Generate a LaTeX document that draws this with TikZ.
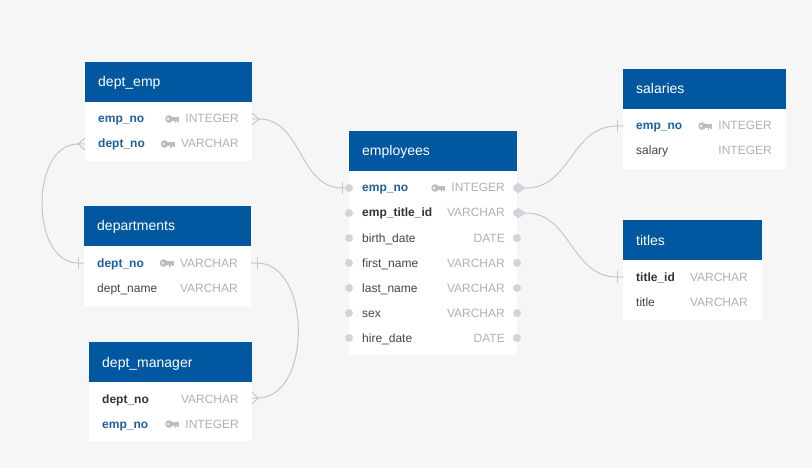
\documentclass[tikz,border=0pt]{standalone}
\usepackage{fontspec}
\setmainfont{Liberation Sans}
\usetikzlibrary{calc}
\definecolor{bgc}{HTML}{F5F6F5}
\definecolor{hdrc}{HTML}{0158A0}
\definecolor{keyblue}{HTML}{1D5F9F}
\definecolor{fkdark}{HTML}{333333}
\definecolor{plainc}{HTML}{444444}
\definecolor{typec}{HTML}{B0B0B8}
\definecolor{keyc}{HTML}{BDBDC5}
\definecolor{dotc}{HTML}{D3D3DD}
\definecolor{linec}{HTML}{C6C6C6}
\tikzset{
  hdrbox/.style={fill=hdrc, draw=none, anchor=north west, minimum height=40pt, inner sep=0pt},
  hdrtxt/.style={text=white, anchor=base west, inner sep=0pt, font=\fontsize{14}{16}\selectfont},
  bodybox/.style={fill=white, draw=none, anchor=north west, inner sep=0pt},
  pkname/.style={text=keyblue, anchor=base west, inner sep=0pt, font=\fontsize{12}{14}\selectfont\bfseries},
  fkname/.style={text=fkdark, anchor=base west, inner sep=0pt, font=\fontsize{12}{14}\selectfont\bfseries},
  plname/.style={text=plainc, anchor=base west, inner sep=0pt, font=\fontsize{12}{14}\selectfont},
  typ/.style={text=typec, anchor=base east, inner sep=0pt, font=\fontsize{12}{14}\selectfont},
  dotnode/.style={circle, fill=dotc, draw=none, minimum size=8pt, inner sep=0pt},
  conn/.style={draw=linec, line width=1pt},
  keyicon/.pic={
    \fill[keyc] (3.8,0) circle [radius=3.8pt];
    \fill[white] (2.9,0) circle [radius=1.2pt];
    \fill[keyc] (6,-1.6) rectangle (14,1.6);
    \fill[keyc] (9.3,1.6) rectangle (11,3.6);
    \fill[keyc] (12.2,1.6) rectangle (14,3.2);
  }
}
\begin{document}
\begin{tikzpicture}[x=1pt,y=-1pt]
\fill[bgc] (0,0) rectangle (812,468);
\useasboundingbox (0,0) rectangle (812,468);

% ---------------- dept_emp ----------------
\node[hdrbox, minimum width=167pt] (deH) at (85,62) {};
\node[hdrtxt] (deTt) at (98,87) {dept\_emp};
\node[bodybox, minimum width=167pt, minimum height=59pt] (deB) at (85,102) {};
\node[pkname] (deN1) at (98,123) {emp\_no};
\node[typ] (deT1) at (239,123) {INTEGER};
\path ($(deT1.base west)+(-20,-4)$) pic {keyicon};
\node[pkname] (deN2) at (98,148) {dept\_no};
\node[typ] (deT2) at (239,148) {VARCHAR};
\path ($(deT2.base west)+(-20,-4)$) pic {keyicon};

% ---------------- departments ----------------
\node[hdrbox, minimum width=167pt] (dpH) at (84,206) {};
\node[hdrtxt] (dpTt) at (97,231) {departments};
\node[bodybox, minimum width=167pt, minimum height=60pt] (dpB) at (84,246) {};
\node[pkname] (dpN1) at (97,267) {dept\_no};
\node[typ] (dpT1) at (238,267) {VARCHAR};
\path ($(dpT1.base west)+(-20,-4)$) pic {keyicon};
\node[plname] (dpN2) at (97,292) {dept\_name};
\node[typ] (dpT2) at (238,292) {VARCHAR};

% ---------------- dept_manager ----------------
\node[hdrbox, minimum width=163pt] (dmH) at (89,342) {};
\node[hdrtxt] (dmTt) at (102,367) {dept\_manager};
\node[bodybox, minimum width=163pt, minimum height=59pt] (dmB) at (89,382) {};
\node[fkname] (dmN1) at (102,403) {dept\_no};
\node[typ] (dmT1) at (239,403) {VARCHAR};
\node[pkname] (dmN2) at (102,428) {emp\_no};
\node[typ] (dmT2) at (239,428) {INTEGER};
\path ($(dmT2.base west)+(-20,-4)$) pic {keyicon};

% ---------------- employees ----------------
\node[hdrbox, minimum width=168pt] (emH) at (349,131) {};
\node[hdrtxt] (emTt) at (362,156) {employees};
\node[bodybox, minimum width=168pt, minimum height=184pt] (emB) at (349,171) {};
\node[pkname] (emN1) at (362,192) {emp\_no};
\node[typ] (emT1) at (505,192) {INTEGER};
\path ($(emT1.base west)+(-20,-4)$) pic {keyicon};
\node[fkname] (emN2) at (362,217) {emp\_title\_id};
\node[typ] (emT2) at (505,217) {VARCHAR};
\node[plname] (emN3) at (362,242) {birth\_date};
\node[typ] (emT3) at (505,242) {DATE};
\node[plname] (emN4) at (362,267) {first\_name};
\node[typ] (emT4) at (505,267) {VARCHAR};
\node[plname] (emN5) at (362,292) {last\_name};
\node[typ] (emT5) at (505,292) {VARCHAR};
\node[plname] (emN6) at (362,317) {sex};
\node[typ] (emT6) at (505,317) {VARCHAR};
\node[plname] (emN7) at (362,342) {hire\_date};
\node[typ] (emT7) at (505,342) {DATE};
\foreach \i/\yy in {1/188,2/213,3/238,4/263,5/288,6/313,7/338}{
  \node[dotnode] (emL\i) at (349,\yy) {};
  \node[dotnode] (emR\i) at (517,\yy) {};
}
\fill[dotc] (517,182) -- (526,188) -- (517,194) -- cycle;
\fill[dotc] (517,207) -- (526,213) -- (517,219) -- cycle;

% ---------------- salaries ----------------
\node[hdrbox, minimum width=163pt] (saH) at (623,69) {};
\node[hdrtxt] (saTt) at (636,94) {salaries};
\node[bodybox, minimum width=163pt, minimum height=60pt] (saB) at (623,109) {};
\node[pkname] (saN1) at (636,130) {emp\_no};
\node[typ] (saT1) at (772,130) {INTEGER};
\path ($(saT1.base west)+(-20,-4)$) pic {keyicon};
\node[plname] (saN2) at (636,155) {salary};
\node[typ] (saT2) at (772,155) {INTEGER};

% ---------------- titles ----------------
\node[hdrbox, minimum width=139pt] (tiH) at (623,220) {};
\node[hdrtxt] (tiTt) at (636,245) {titles};
\node[bodybox, minimum width=139pt, minimum height=60pt] (tiB) at (623,260) {};
\node[fkname] (tiN1) at (636,281) {title\_id};
\node[typ] (tiT1) at (748,281) {VARCHAR};
\node[plname] (tiN2) at (636,306) {title};
\node[typ] (tiT2) at (748,306) {VARCHAR};

% ---------------- connector end points ----------------
\coordinate (deR1) at (252,119);
\coordinate (deR1a) at (259,119);
\coordinate (deL2) at (85,144);
\coordinate (deL2a) at (78,144);
\coordinate (dpL1) at (84,263);
\coordinate (dpL1a) at (78,263);
\coordinate (dpR1) at (251,263);
\coordinate (dpR1a) at (257,263);
\coordinate (dmR1) at (252,398);
\coordinate (dmR1a) at (258,398);
\coordinate (emL1a) at (342,188);
\coordinate (emR1a) at (526,188);
\coordinate (emR2a) at (526,213);
\coordinate (saL1) at (623,126);
\coordinate (saL1a) at (617,126);
\coordinate (tiL1) at (623,277);
\coordinate (tiL1a) at (617,277);

% dept_emp.emp_no >-- employees.emp_no
\draw[conn] ($(deR1)+(0,-6)$) -- (deR1a) -- ($(deR1)+(0,6)$);
\draw[conn] (deR1) -- (deR1a) .. controls (302,119) and (299,188) .. (emL1a) -- (emL1);
\draw[conn] ($(emL1a)+(0,-6)$) -- ($(emL1a)+(0,6)$);

% dept_emp.dept_no >-- departments.dept_no
\draw[conn] ($(deL2)+(0,-6)$) -- (deL2a) -- ($(deL2)+(0,6)$);
\draw[conn] (deL2) -- (deL2a) .. controls (30,144) and (30,263) .. (dpL1a) -- (dpL1);
\draw[conn] ($(dpL1a)+(0,-6)$) -- ($(dpL1a)+(0,6)$);

% departments.dept_no --< dept_manager.dept_no
\draw[conn] (dpR1) -- (dpR1a) .. controls (312,263) and (312,398) .. (dmR1a) -- (dmR1);
\draw[conn] ($(dpR1a)+(0,-6)$) -- ($(dpR1a)+(0,6)$);
\draw[conn] ($(dmR1)+(0,-6)$) -- (dmR1a) -- ($(dmR1)+(0,6)$);

% employees.emp_no -- salaries.emp_no
\draw[conn] (emR1a) .. controls (571,188) and (571,126) .. (saL1a) -- (saL1);
\draw[conn] ($(saL1a)+(0,-6)$) -- ($(saL1a)+(0,6)$);

% employees.emp_title_id -- titles.title_id
\draw[conn] (emR2a) .. controls (571,213) and (571,277) .. (tiL1a) -- (tiL1);
\draw[conn] ($(tiL1a)+(0,-6)$) -- ($(tiL1a)+(0,6)$);
\end{tikzpicture}
\end{document}
